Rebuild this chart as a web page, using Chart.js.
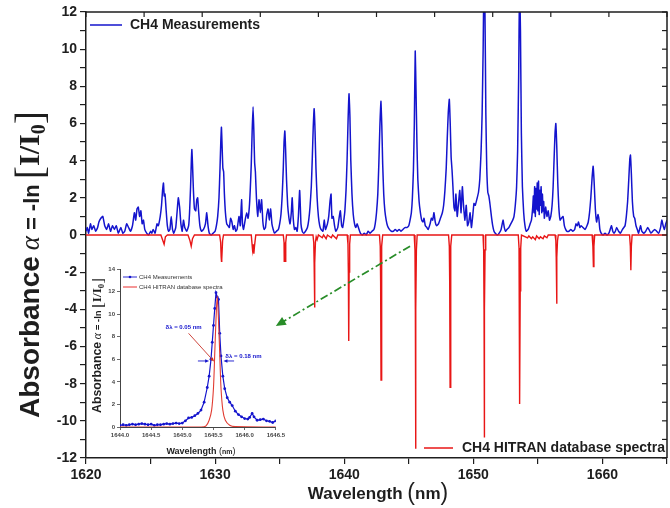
<!DOCTYPE html>
<html><head><meta charset="utf-8">
<script src="https://cdn.jsdelivr.net/npm/chart.js@4.4.1/dist/chart.umd.min.js"></script>
<style>
html,body{margin:0;padding:0;background:#fff;}
#wrap{position:relative;width:670px;height:508px;}
#main{position:absolute;left:0;top:0;}
#inset{position:absolute;left:92px;top:262px;}
</style></head><body>
<div id="wrap"><canvas id="main" width="670" height="508"></canvas><canvas id="inset" width="195" height="196"></canvas></div>
<script>
// ---- main chart: CH4 measurements [wavelength nm, absorbance]
const measurements = [[1620.0,0.2],[1620.1,0.4],[1620.2,0.1],[1620.35,0.6],[1620.45,0.3],[1620.6,0.5],[1620.75,0.2],[1620.9,0.4],[1621.0,0.7],[1621.15,0.9],[1621.3,1.0],[1621.45,0.5],[1621.6,0.3],[1621.75,0.6],[1621.9,0.2],[1622.05,0.5],[1622.2,0.3],[1622.35,0.5],[1622.5,0.1],[1622.7,0.4],[1622.85,0.1],[1623.0,0.2],[1623.15,0.6],[1623.3,0.4],[1623.45,0.2],[1623.6,0.5],[1623.75,1.2],[1623.85,0.8],[1623.95,1.4],[1624.05,1.5],[1624.15,1.0],[1624.25,1.3],[1624.35,0.6],[1624.45,0.8],[1624.55,0.3],[1624.7,0.1],[1624.85,0.0],[1625.0,0.2],[1625.1,0.1],[1625.2,0.3],[1625.35,0.1],[1625.5,0.6],[1625.6,0.5],[1625.75,1.0],[1625.85,1.6],[1625.93,2.4],[1626.0,2.8],[1626.06,2.1],[1626.12,2.2],[1626.2,1.4],[1626.3,0.5],[1626.4,0.2],[1626.5,0.3],[1626.6,1.0],[1626.7,0.3],[1626.8,0.1],[1626.95,0.4],[1627.05,1.2],[1627.15,2.0],[1627.25,1.5],[1627.35,0.6],[1627.45,0.2],[1627.55,0.8],[1627.65,0.4],[1627.8,0.2],[1627.95,0.5],[1628.02,1.2],[1628.1,2.6],[1628.16,4.0],[1628.2,4.6],[1628.25,3.8],[1628.32,2.4],[1628.4,1.4],[1628.5,1.3],[1628.58,1.9],[1628.65,2.0],[1628.72,1.3],[1628.82,0.5],[1628.95,0.2],[1629.1,0.3],[1629.25,0.6],[1629.35,1.2],[1629.45,0.5],[1629.55,0.1],[1629.7,0.0],[1629.85,0.1],[1630.0,0.2],[1630.1,0.5],[1630.2,1.0],[1630.3,2.0],[1630.38,3.6],[1630.44,5.0],[1630.49,5.8],[1630.54,4.8],[1630.6,3.6],[1630.66,3.4],[1630.72,2.2],[1630.8,1.2],[1630.9,0.6],[1631.0,0.5],[1631.1,0.4],[1631.2,0.9],[1631.3,0.7],[1631.4,0.3],[1631.5,0.5],[1631.6,0.2],[1631.7,0.3],[1631.85,1.0],[1631.95,0.5],[1632.05,1.9],[1632.12,0.6],[1632.2,0.3],[1632.35,0.9],[1632.45,1.2],[1632.55,0.9],[1632.65,1.5],[1632.72,2.4],[1632.8,3.8],[1632.87,5.6],[1632.94,6.9],[1633.0,5.6],[1633.06,3.9],[1633.12,3.4],[1633.2,2.0],[1633.3,1.0],[1633.4,1.9],[1633.5,1.2],[1633.6,1.9],[1633.7,0.7],[1633.8,0.3],[1633.9,0.4],[1634.0,1.1],[1634.1,1.4],[1634.2,0.8],[1634.3,1.4],[1634.4,0.6],[1634.5,0.3],[1634.6,0.1],[1634.75,0.2],[1634.9,0.3],[1635.0,0.6],[1635.1,1.1],[1635.2,2.2],[1635.28,3.6],[1635.34,5.0],[1635.4,5.6],[1635.46,4.6],[1635.53,3.0],[1635.62,1.6],[1635.72,0.9],[1635.8,0.6],[1635.9,1.2],[1635.97,2.0],[1636.05,0.9],[1636.15,0.3],[1636.25,0.4],[1636.35,0.2],[1636.45,1.0],[1636.55,2.4],[1636.65,0.6],[1636.75,0.2],[1636.85,0.1],[1637.0,0.2],[1637.15,0.4],[1637.25,0.8],[1637.35,1.5],[1637.45,2.6],[1637.53,4.2],[1637.6,5.8],[1637.67,6.8],[1637.74,5.6],[1637.81,3.6],[1637.9,2.0],[1638.0,1.0],[1638.1,0.5],[1638.2,0.3],[1638.35,0.2],[1638.45,0.8],[1638.55,0.3],[1638.7,0.6],[1638.8,1.0],[1638.9,1.8],[1638.98,2.2],[1639.05,0.9],[1639.15,1.0],[1639.25,0.5],[1639.35,0.2],[1639.5,0.4],[1639.6,0.9],[1639.7,1.3],[1639.8,0.5],[1639.88,0.4],[1639.95,0.7],[1640.05,1.3],[1640.14,2.4],[1640.22,4.0],[1640.3,6.2],[1640.37,7.6],[1640.44,6.4],[1640.51,4.0],[1640.6,2.2],[1640.7,1.1],[1640.8,0.6],[1640.9,0.4],[1641.0,0.6],[1641.1,0.4],[1641.25,0.1],[1641.4,0.0],[1641.55,0.1],[1641.7,0.0],[1641.85,0.2],[1642.0,0.1],[1642.15,0.2],[1642.3,0.3],[1642.4,0.6],[1642.5,1.2],[1642.6,2.2],[1642.68,3.8],[1642.76,5.8],[1642.84,7.2],[1642.91,5.9],[1642.98,3.8],[1643.06,2.2],[1643.15,1.3],[1643.25,0.8],[1643.35,0.5],[1643.5,0.3],[1643.65,0.2],[1643.8,0.2],[1643.95,0.3],[1644.1,0.2],[1644.25,0.3],[1644.4,0.2],[1644.55,0.3],[1644.7,0.4],[1644.85,0.4],[1645.0,0.5],[1645.1,0.8],[1645.2,1.2],[1645.28,2.0],[1645.36,3.5],[1645.43,6.0],[1645.5,9.9],[1645.56,7.8],[1645.63,5.0],[1645.7,3.0],[1645.8,1.8],[1645.9,1.2],[1646.0,0.8],[1646.1,0.7],[1646.18,0.9],[1646.28,0.5],[1646.4,0.4],[1646.5,0.3],[1646.65,0.6],[1646.75,0.9],[1646.85,0.8],[1646.95,1.2],[1647.05,0.7],[1647.15,0.5],[1647.3,0.6],[1647.45,0.9],[1647.6,1.2],[1647.7,1.6],[1647.8,2.4],[1647.9,3.6],[1647.98,5.2],[1648.06,6.6],[1648.14,7.3],[1648.21,6.0],[1648.28,4.2],[1648.35,3.5],[1648.42,2.6],[1648.5,1.5],[1648.58,1.3],[1648.65,2.2],[1648.75,1.0],[1648.85,1.7],[1648.95,2.4],[1649.05,1.2],[1649.15,2.6],[1649.25,1.5],[1649.35,0.8],[1649.45,1.6],[1649.55,0.5],[1649.65,0.7],[1649.75,1.2],[1649.85,0.4],[1649.95,1.0],[1650.05,1.7],[1650.15,1.6],[1650.3,2.0],[1650.4,2.3],[1650.5,3.0],[1650.6,4.5],[1650.68,6.5],[1650.76,10.0],[1650.82,13.5],[1650.9,12.0],[1650.97,6.5],[1651.04,3.6],[1651.12,2.3],[1651.2,2.1],[1651.3,1.6],[1651.4,1.0],[1651.5,0.5],[1651.6,0.2],[1651.7,0.1],[1651.85,0.0],[1652.0,0.1],[1652.15,0.3],[1652.3,0.8],[1652.4,0.4],[1652.5,0.2],[1652.6,0.3],[1652.75,0.4],[1652.9,0.6],[1653.05,0.8],[1653.15,1.0],[1653.25,1.6],[1653.35,2.6],[1653.43,4.5],[1653.51,8.5],[1653.58,13.5],[1653.65,11.0],[1653.72,5.5],[1653.8,2.6],[1653.9,1.2],[1654.0,0.5],[1654.1,0.2],[1654.25,0.3],[1654.4,0.6],[1654.5,0.8],[1654.6,1.5],[1654.65,2.1],[1654.7,1.2],[1654.75,2.6],[1654.8,1.0],[1654.85,2.5],[1654.9,1.4],[1654.95,2.8],[1655.0,1.3],[1655.05,2.9],[1655.1,1.1],[1655.15,2.4],[1655.2,1.6],[1655.25,2.6],[1655.3,1.2],[1655.35,2.2],[1655.4,1.3],[1655.45,1.8],[1655.5,0.9],[1655.6,1.5],[1655.7,1.0],[1655.8,1.3],[1655.9,0.8],[1656.0,1.0],[1656.1,1.6],[1656.18,2.6],[1656.26,4.2],[1656.33,5.5],[1656.39,6.0],[1656.46,4.8],[1656.54,2.8],[1656.62,1.5],[1656.72,0.8],[1656.82,0.9],[1656.95,1.0],[1657.05,0.5],[1657.15,0.3],[1657.25,0.2],[1657.4,0.2],[1657.55,0.3],[1657.7,0.2],[1657.85,0.3],[1657.95,0.6],[1658.05,0.5],[1658.15,0.7],[1658.25,0.4],[1658.35,0.5],[1658.5,0.4],[1658.65,0.3],[1658.8,0.5],[1658.9,0.7],[1659.0,1.2],[1659.1,2.0],[1659.2,3.1],[1659.28,3.7],[1659.36,2.8],[1659.45,1.4],[1659.55,0.7],[1659.65,1.1],[1659.72,0.9],[1659.8,0.3],[1659.9,0.1],[1660.05,0.0],[1660.2,0.1],[1660.35,0.0],[1660.5,0.1],[1660.6,0.3],[1660.7,0.5],[1660.8,0.2],[1660.9,0.1],[1661.0,0.2],[1661.1,0.4],[1661.25,0.2],[1661.4,0.1],[1661.55,0.3],[1661.65,0.4],[1661.75,0.5],[1661.85,1.0],[1661.95,1.8],[1662.04,3.0],[1662.12,4.1],[1662.17,4.3],[1662.24,3.3],[1662.32,1.8],[1662.42,1.0],[1662.5,0.9],[1662.6,0.5],[1662.7,0.3],[1662.8,0.1],[1662.95,0.5],[1663.05,0.2],[1663.2,0.1],[1663.35,0.2],[1663.5,0.4],[1663.6,0.3],[1663.75,0.1],[1663.9,0.2],[1664.05,0.3],[1664.2,0.2],[1664.35,0.1],[1664.5,0.4],[1664.6,0.8],[1664.7,0.5],[1664.8,0.3],[1664.9,0.6],[1665.0,0.8]];
// ---- main chart: CH4 HITRAN database spectra (plotted negative) [wavelength nm, absorbance]
const hitran = [[1620.0,0],[1625.8,0],[1625.95,-0.3],[1626.05,-0.5],[1626.15,-0.1],[1626.3,0],[1627.9,0],[1628.05,-0.3],[1628.15,-0.6],[1628.25,-0.2],[1628.4,0],[1630.35,0],[1630.43,-0.4],[1630.47,-1.2],[1630.5,-1.6],[1630.53,-1.3],[1630.58,-0.3],[1630.65,0],[1632.8,0],[1632.9,-0.8],[1632.95,-0.5],[1633.0,-1.0],[1633.05,-0.6],[1633.15,0],[1635.28,0],[1635.34,-0.4],[1635.37,-1.5],[1635.4,-3.9],[1635.43,-1.5],[1635.47,-0.4],[1635.53,0],[1637.58,0],[1637.64,-0.4],[1637.67,-1.5],[1637.7,-3.9],[1637.73,-1.5],[1637.77,-0.4],[1637.83,-0.1],[1637.9,-0.25],[1638.0,0],[1638.3,-0.15],[1638.4,0],[1638.6,-0.2],[1638.7,0],[1639.0,-0.15],[1639.1,0],[1639.4,-0.2],[1639.5,0],[1640.23,0],[1640.29,-0.5],[1640.32,-2.0],[1640.35,-5.7],[1640.38,-2.0],[1640.42,-0.5],[1640.48,0],[1642.73,0],[1642.79,-0.6],[1642.82,-2.5],[1642.85,-7.8],[1642.88,-2.5],[1642.92,-0.6],[1642.98,0],[1645.42,0],[1645.48,-0.8],[1645.51,-4.0],[1645.53,-11.5],[1645.55,-4.0],[1645.59,-0.8],[1645.65,0],[1648.08,0],[1648.14,-0.6],[1648.17,-2.5],[1648.2,-8.2],[1648.23,-2.5],[1648.27,-0.6],[1648.33,0],[1650.75,0],[1650.8,-0.8],[1650.83,-4.0],[1650.85,-10.9],[1650.87,-4.0],[1650.91,-0.8],[1650.96,0],[1653.48,0],[1653.54,-0.7],[1653.57,-3.0],[1653.6,-9.1],[1653.63,-3.0],[1653.67,-0.7],[1653.73,0],[1654.2,-0.15],[1654.3,-0.05],[1654.5,-0.2],[1654.6,-0.1],[1654.8,-0.25],[1654.9,-0.05],[1655.1,-0.2],[1655.2,-0.1],[1655.4,-0.2],[1655.5,-0.05],[1655.7,-0.15],[1655.8,0],[1656.33,0],[1656.39,-0.3],[1656.42,-1.2],[1656.45,-3.7],[1656.48,-1.2],[1656.52,-0.3],[1656.58,0],[1659.2,0],[1659.26,-0.6],[1659.3,-1.7],[1659.34,-0.6],[1659.4,0],[1662.1,0],[1662.16,-0.6],[1662.2,-1.9],[1662.24,-0.6],[1662.3,0],[1665.0,0]];
// ---- inset: zoom on the 1645.5 nm line
const insetMeasurements = [[1644.0,0.15],[1644.05,0.2],[1644.1,0.15],[1644.15,0.2],[1644.2,0.25],[1644.25,0.2],[1644.3,0.25],[1644.35,0.3],[1644.4,0.25],[1644.45,0.2],[1644.5,0.25],[1644.55,0.15],[1644.6,0.2],[1644.65,0.2],[1644.7,0.25],[1644.75,0.3],[1644.8,0.25],[1644.85,0.3],[1644.9,0.35],[1644.95,0.3],[1645.0,0.35],[1645.05,0.55],[1645.1,0.8],[1645.15,0.85],[1645.2,1.0],[1645.25,1.2],[1645.3,1.5],[1645.35,2.2],[1645.4,3.5],[1645.43,4.5],[1645.46,6.0],[1645.48,7.5],[1645.5,9.0],[1645.52,10.5],[1645.54,11.9],[1645.56,11.5],[1645.58,11.3],[1645.6,8.3],[1645.62,6.3],[1645.65,4.5],[1645.68,3.4],[1645.72,2.6],[1645.76,2.2],[1645.8,1.9],[1645.85,1.4],[1645.9,1.1],[1645.95,0.9],[1646.0,0.75],[1646.05,0.7],[1646.08,0.85],[1646.12,1.2],[1646.15,0.9],[1646.2,0.6],[1646.25,0.65],[1646.3,0.7],[1646.35,0.55],[1646.4,0.5],[1646.45,0.4],[1646.5,0.55]];
const insetHitran = [[1644.0,0],[1645.3,0],[1645.38,0.1],[1645.43,0.6],[1645.47,1.5],[1645.5,3.5],[1645.52,6.5],[1645.54,9.5],[1645.56,11.6],[1645.58,9.5],[1645.6,6.5],[1645.62,3.5],[1645.65,1.5],[1645.69,0.6],[1645.76,0.15],[1645.85,0.03],[1646.5,0]];
const seriesNames = ['CH4 Measurements','CH4 HITRAN database spectra'];

const SANS = "'Liberation Sans', Arial, sans-serif";
const SERIF = "'Liberation Serif', 'Times New Roman', serif";
const BLUE = 'rgb(20,20,205)', RED = 'rgb(232,22,22)', INK = '#1e1e1e';

function pts(pairs){ return pairs.map(p=>({x:p[0], y:p[1]})); }

function drawParts(ctx, parts, x, y, rot, align){
  ctx.save();
  ctx.translate(x,y);
  if(rot) ctx.rotate(rot);
  let total = 0;
  ctx.textBaseline = 'alphabetic'; ctx.textAlign = 'left';
  parts.forEach(p=>{ ctx.font = p.font; p.w = ctx.measureText(p.t).width + (p.gap||0); total += p.w; });
  let cx = align==='center' ? -total/2 : 0;
  parts.forEach(p=>{ ctx.font = p.font; ctx.fillStyle = p.color || INK; ctx.fillText(p.t, cx, p.dy||0); cx += p.w; });
  ctx.restore();
}

function yTitleParts(s){
  return [
    {t:'Absorbance', font:`bold ${28*s}px ${SANS}`, gap:6*s},
    {t:'\u03B1', font:`italic ${27*s}px ${SERIF}`, gap:6*s},
    {t:'=', font:`bold ${22*s}px ${SANS}`, gap:6*s},
    {t:'-ln', font:`bold ${22*s}px ${SANS}`, gap:5*s},
    {t:'[', font:`${40*s}px ${SERIF}`, dy:4*s},
    {t:'I/I', font:`bold ${30*s}px ${SERIF}`},
    {t:'0', font:`bold ${20*s}px ${SERIF}`, dy:6*s},
    {t:']', font:`${40*s}px ${SERIF}`, dy:4*s}
  ];
}

function arrow(ctx, x1,y1,x2,y2, color, width, dash, head){
  ctx.save();
  ctx.strokeStyle = color; ctx.fillStyle = color; ctx.lineWidth = width;
  const a = Math.atan2(y2-y1, x2-x1);
  const ex = x2 - Math.cos(a)*head*0.8, ey = y2 - Math.sin(a)*head*0.8;
  ctx.setLineDash(dash||[]);
  ctx.beginPath(); ctx.moveTo(x1,y1); ctx.lineTo(ex,ey); ctx.stroke();
  ctx.setLineDash([]);
  ctx.beginPath();
  ctx.moveTo(x2,y2);
  ctx.lineTo(x2 - head*Math.cos(a) + head*0.45*Math.sin(a), y2 - head*Math.sin(a) - head*0.45*Math.cos(a));
  ctx.lineTo(x2 - head*Math.cos(a) - head*0.45*Math.sin(a), y2 - head*Math.sin(a) + head*0.45*Math.cos(a));
  ctx.closePath(); ctx.fill();
  ctx.restore();
}

const mainDecor = {
  id:'mainDecor',
  afterDatasetsDraw(chart){
    const ctx = chart.ctx;
    ctx.save(); ctx.fillStyle = '#fff'; ctx.fillRect(92, 262, 195, 194); ctx.restore();
  },
  afterDraw(chart){
    const ctx = chart.ctx, a = chart.chartArea, xs = chart.scales.x, ys = chart.scales.y;
    ctx.save();
    ctx.strokeStyle = INK; ctx.lineWidth = 1.5;
    ctx.beginPath(); ctx.moveTo(a.left, a.top); ctx.lineTo(a.right, a.top); ctx.lineTo(a.right, a.bottom); ctx.stroke();
    ctx.lineWidth = 1.2;
    for(let v=1620; v<=1665.01; v+=4.5){ const px = xs.getPixelForValue(v); ctx.beginPath(); ctx.moveTo(px,a.top); ctx.lineTo(px,a.top+5); ctx.stroke(); }
    for(let v=-12; v<=12; v++){ const py = ys.getPixelForValue(v); ctx.beginPath(); ctx.moveTo(a.right,py); ctx.lineTo(a.right-5,py); ctx.stroke(); }
    ctx.restore();
    ctx.save();
    ctx.lineWidth = 1.5;
    ctx.strokeStyle = BLUE; ctx.beginPath(); ctx.moveTo(a.left+4, a.top+13); ctx.lineTo(a.left+36, a.top+13); ctx.stroke();
    ctx.font = `bold 14px ${SANS}`; ctx.fillStyle = INK; ctx.textBaseline = 'middle';
    ctx.fillText(seriesNames[0], a.left+44, a.top+13);
    ctx.strokeStyle = RED; ctx.beginPath(); ctx.moveTo(a.right-243, a.bottom-10); ctx.lineTo(a.right-214, a.bottom-10); ctx.stroke();
    ctx.textAlign = 'right'; ctx.fillText(seriesNames[1], a.right-2, a.bottom-10);
    ctx.restore();
    arrow(ctx, xs.getPixelForValue(1645.1), ys.getPixelForValue(-0.6), xs.getPixelForValue(1634.7), ys.getPixelForValue(-4.9), 'rgb(40,140,40)', 1.7, [8,3,2,3], 10);
    drawParts(ctx, yTitleParts(1), 39, 418, -Math.PI/2, 'left');
    drawParts(ctx, [
      {t:'Wavelength ', font:`bold 17px ${SANS}`},
      {t:'(', font:`23px ${SANS}`, dy:1},
      {t:'nm', font:`bold 17px ${SANS}`},
      {t:')', font:`23px ${SANS}`, dy:1}
    ], 378, 499, 0, 'center');
  }
};

const tickFont = {family:SANS, size:14, weight:'bold'};
new Chart(document.getElementById('main'), {
  type:'line',
  data:{datasets:[
    {label:seriesNames[1], data:pts(hitran), borderColor:RED, borderWidth:1.4, pointRadius:0, tension:0, order:0},
    {label:seriesNames[0], data:pts(measurements), borderColor:BLUE, borderWidth:1.5, pointRadius:0, tension:0.15, order:1}
  ]},
  options:{
    responsive:false, animation:false, devicePixelRatio:1,
    layout:{padding:{top:12,right:2,left:0,bottom:0}},
    plugins:{legend:{display:false}, tooltip:{enabled:false}},
    scales:{
      x:{type:'linear', min:1620, max:1665,
         ticks:{stepSize:5, autoSkip:false, maxRotation:0, font:tickFont, color:INK, padding:3,
                callback:v=> (Math.round(v)%10===0 ? String(v) : '')},
         grid:{drawOnChartArea:false, tickLength:6, color:INK, lineWidth:1.2},
         border:{color:INK, width:1.5},
         afterFit:s=>{s.height=50;}},
      y:{type:'linear', min:-12, max:12,
         ticks:{stepSize:1, autoSkip:false, font:tickFont, color:INK, padding:3,
                callback:v=> (v%2===0 ? String(v) : '')},
         grid:{drawOnChartArea:false, tickLength:6, color:INK, lineWidth:1.2},
         border:{color:INK, width:1.5},
         afterFit:s=>{s.width=86;}}
    }
  },
  plugins:[mainDecor]
});

// ---------------- inset chart ----------------
const insetDecor = {
  id:'insetDecor',
  afterDraw(chart){
    const ctx = chart.ctx, a = chart.chartArea, xs = chart.scales.x, ys = chart.scales.y;
    ctx.save();
    ctx.font = `6px ${SANS}`; ctx.textBaseline='middle';
    ctx.strokeStyle = BLUE; ctx.lineWidth = 0.9;
    ctx.beginPath(); ctx.moveTo(a.left+3, a.top+8); ctx.lineTo(a.left+17, a.top+8); ctx.stroke();
    ctx.fillStyle = BLUE; ctx.beginPath(); ctx.arc(a.left+10, a.top+8, 1.3, 0, Math.PI*2); ctx.fill();
    ctx.fillStyle = '#333'; ctx.fillText(seriesNames[0], a.left+19, a.top+8);
    ctx.strokeStyle = RED; ctx.beginPath(); ctx.moveTo(a.left+3, a.top+18); ctx.lineTo(a.left+17, a.top+18); ctx.stroke();
    ctx.fillText(seriesNames[1], a.left+19, a.top+18);
    ctx.font = `bold 6px ${SANS}`; ctx.fillStyle = BLUE; ctx.textAlign='center';
    ctx.fillText('\u03B4\u03BB = 0.05 nm', xs.getPixelForValue(1645.02), ys.getPixelForValue(8.8));
    ctx.fillText('\u03B4\u03BB = 0.18 nm', xs.getPixelForValue(1645.98), ys.getPixelForValue(6.3));
    ctx.restore();
    arrow(ctx, xs.getPixelForValue(1645.1), ys.getPixelForValue(8.3), xs.getPixelForValue(1645.51), ys.getPixelForValue(5.8), 'rgb(200,50,40)', 0.9, [], 4);
    arrow(ctx, xs.getPixelForValue(1645.25), ys.getPixelForValue(5.85), xs.getPixelForValue(1645.43), ys.getPixelForValue(5.85), BLUE, 0.9, [], 4);
    arrow(ctx, xs.getPixelForValue(1645.83), ys.getPixelForValue(5.85), xs.getPixelForValue(1645.66), ys.getPixelForValue(5.85), BLUE, 0.9, [], 4);
    drawParts(ctx, yTitleParts(0.44), 9, 151, -Math.PI/2, 'left');
    drawParts(ctx, [
      {t:'Wavelength ', font:`bold 9px ${SANS}`},
      {t:'(', font:`9px ${SANS}`},
      {t:'nm', font:`bold 7px ${SANS}`},
      {t:')', font:`9px ${SANS}`}
    ], 109, 192, 0, 'center');
  }
};
const insetTick = {family:SANS, size:6, weight:'bold'};
new Chart(document.getElementById('inset'), {
  type:'line',
  data:{datasets:[
    {label:seriesNames[1], data:pts(insetHitran), borderColor:'rgb(225,60,50)', borderWidth:1.1, pointRadius:0, tension:0.3, order:0},
    {label:seriesNames[0], data:pts(insetMeasurements), borderColor:BLUE, borderWidth:1.2, pointRadius:1.4, pointBackgroundColor:BLUE, pointBorderWidth:0, tension:0, order:1}
  ]},
  options:{
    responsive:false, animation:false, devicePixelRatio:1,
    layout:{padding:{top:7,right:6,left:0,bottom:0}},
    plugins:{legend:{display:false}, tooltip:{enabled:false}},
    scales:{
      x:{type:'linear', min:1644, max:1646.5,
         ticks:{stepSize:0.5, autoSkip:false, maxRotation:0, font:insetTick, color:'#444', padding:2,
                callback:v=> v.toFixed(1)},
         grid:{drawOnChartArea:false, tickLength:3, color:'#444', lineWidth:0.8},
         border:{color:'#444', width:1},
         afterFit:s=>{s.height=31;}},
      y:{type:'linear', min:0, max:14,
         ticks:{stepSize:2, autoSkip:false, font:insetTick, color:'#444', padding:2},
         grid:{drawOnChartArea:false, tickLength:3, color:'#444', lineWidth:0.8},
         border:{color:'#444', width:1},
         afterFit:s=>{s.width=28;}}
    }
  },
  plugins:[insetDecor]
});
</script>
</body></html>
